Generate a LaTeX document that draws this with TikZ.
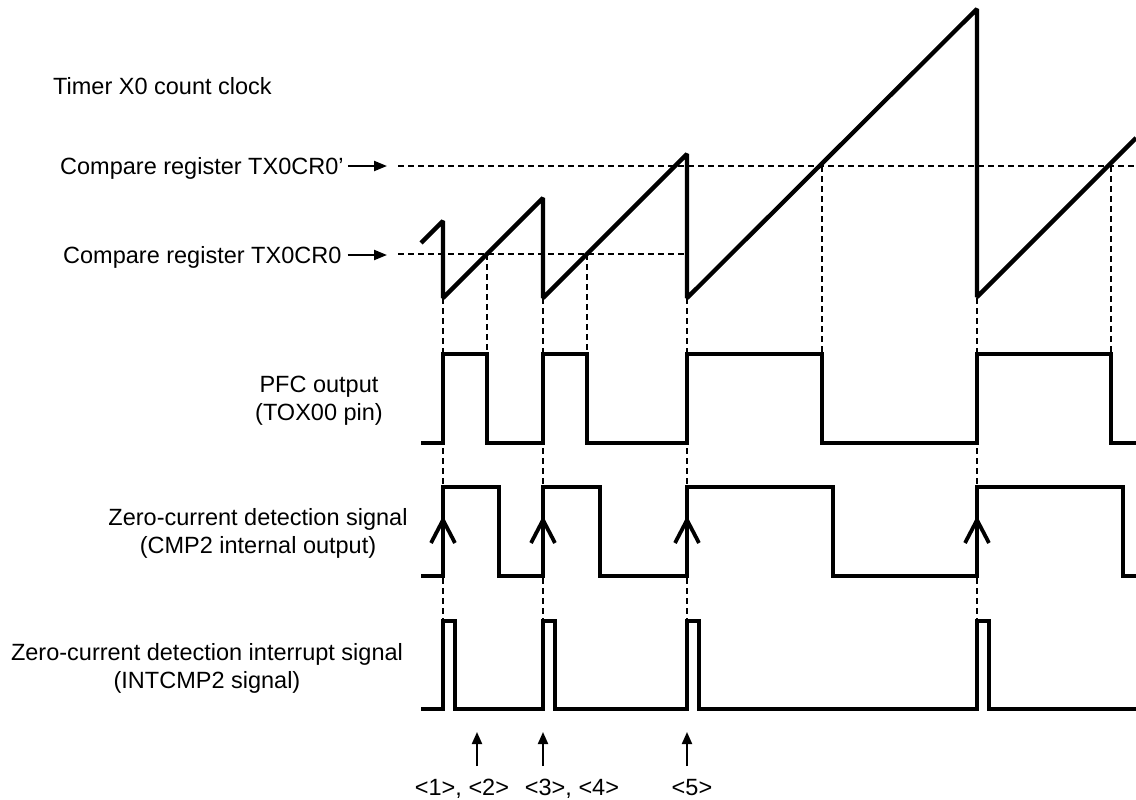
\documentclass[tikz,border=0pt]{standalone}
\usepackage{fontspec}
\setmainfont{Liberation Sans}
\usetikzlibrary{arrows.meta}

\tikzset{
  lab/.style={inner sep=0pt, font=\fontsize{23.5}{28}\selectfont},
  wave/.style={line width=4.3pt, line join=miter},
  guide/.style={line width=1.4pt, dash pattern=on 6pt off 4pt},
  edgemark/.style={line width=3.8pt},
  labarrow/.style={line width=2.2pt, -{Triangle[length=13pt,width=10pt]}},
  evarrow/.style={line width=2pt, -{Triangle[length=12pt,width=10pt]}}
}

\begin{document}
\begin{tikzpicture}[x=1pt, y=-1pt]
  \useasboundingbox (0,0) rectangle (1136,800);

  \node[lab, anchor=base west] (clk) at (53,95) {Timer X0 count clock};
  \node[lab, anchor=base west] (cr0p) at (60,174) {Compare register TX0CR0’};
  \node[lab, anchor=base west] (cr0) at (63,263) {Compare register TX0CR0};
  \node[lab, align=center] (pfc) at (319,401) {PFC output\\(TOX00 pin)};
  \node[lab, align=center] (zcd) at (258,533) {Zero-current detection signal\\(CMP2 internal output)};
  \node[lab, align=center] (intc) at (207,668) {Zero-current detection interrupt signal\\(INTCMP2 signal)};

  \coordinate (cr0pend) at (387,166);
  \coordinate (cr0end) at (387,255);
  \draw[labarrow] ([xshift=4pt]cr0p.east |- cr0pend) -- (cr0pend);
  \draw[labarrow] ([xshift=6pt]cr0.east |- cr0end) -- (cr0end);

  % compare levels and timing guides
  \draw[guide] (398,166) -- (1136,166);
  \draw[guide] (398,254) -- (687,254);
  \foreach \x in {443,543,687,977}
    \draw[guide] (\x,298) -- (\x,621);
  \foreach \x/\y in {487/254,587/254,822/166,1111/166}
    \draw[guide] (\x,\y) -- (\x,354);

  % counter
  \draw[wave, line join=bevel] (421,243) -- (443,221) -- (443,298) -- (543,198) -- (543,298)
    -- (687,154) -- (687,298) -- (977,9) -- (977,297) -- (1136,138);

  % PFC output
  \draw[wave] (421,443) -| (443,354) -| (487,443) -| (543,354) -| (587,443) -| (687,354)
    -| (822,443) -| (977,354) -| (1111,443) -- (1136,443);

  % zero-current detection
  \draw[wave] (421,576) -| (443,487) -| (499,576) -| (543,487) -| (600,576) -| (687,487)
    -| (833,576) -| (977,487) -| (1123,576) -- (1136,576);
  \foreach \x in {443,543,687,977}
    \draw[edgemark] (\x-12,543) -- (\x,520) -- (\x+12,543);

  % interrupt
  \draw[wave] (421,709) -| (443,621) -| (455,709) -| (543,621) -| (555,709) -| (687,621)
    -| (699,709) -| (977,621) -| (989,709) -- (1136,709);

  % event markers
  \node[lab, anchor=base] (m12) at (462,795) {<1>, <2>};
  \node[lab, anchor=base] (m34) at (572,795) {<3>, <4>};
  \node[lab, anchor=base] (m5) at (692,795) {<5>};
  \coordinate (e12) at (477,732);
  \coordinate (e34) at (543,732);
  \coordinate (e5) at (687,732);
  \draw[evarrow] (e12 |- 0,766) -- (e12);
  \draw[evarrow] (e34 |- 0,766) -- (e34);
  \draw[evarrow] (e5 |- 0,766) -- (e5);
\end{tikzpicture}
\end{document}
